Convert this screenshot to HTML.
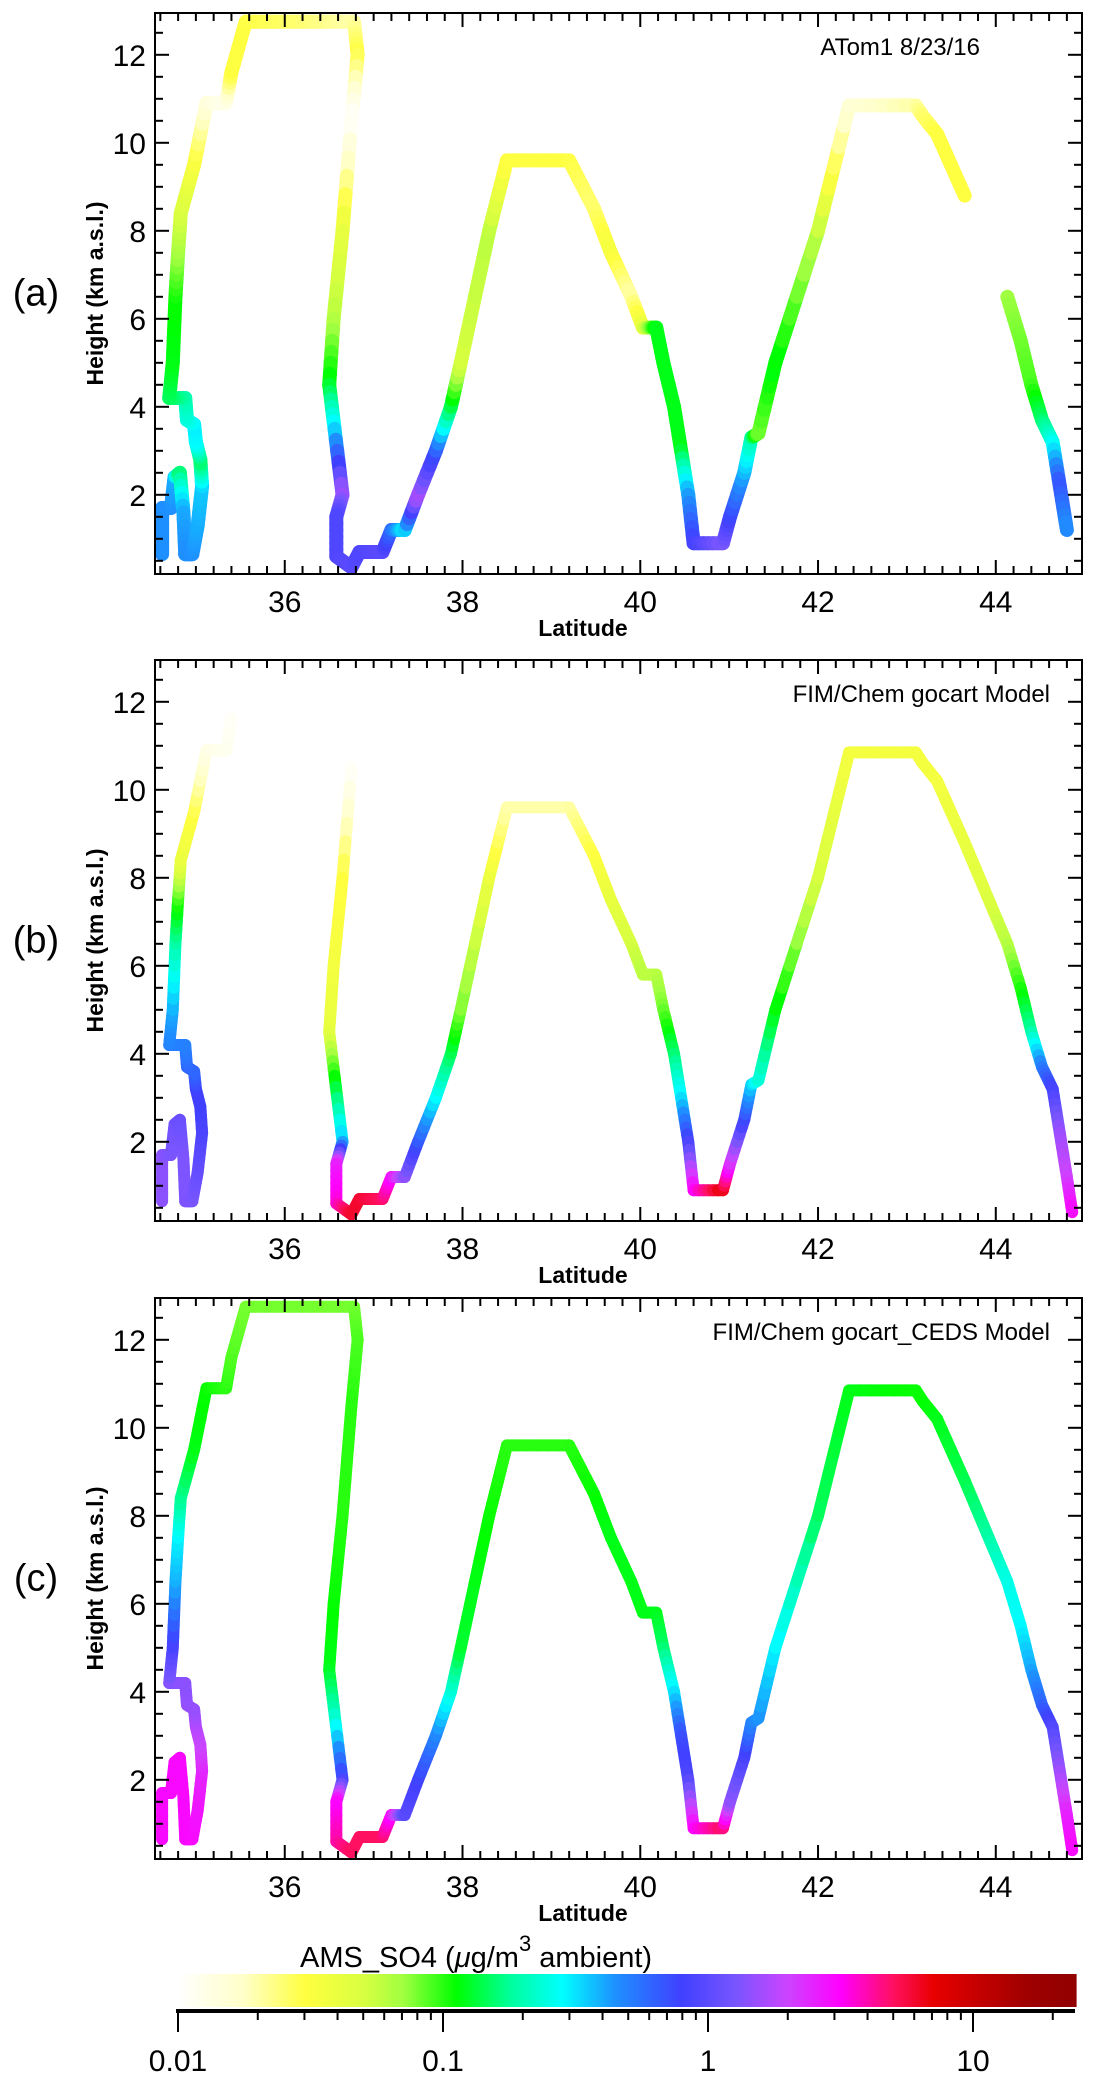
<!DOCTYPE html>
<html><head><meta charset="utf-8"><style>
html,body{margin:0;padding:0;background:#fff}
svg{display:block}
text{font-family:"Liberation Sans",sans-serif;fill:#000}
</style></head><body>
<svg id="fig" width="1096" height="2083" viewBox="0 0 1096 2083" xmlns="http://www.w3.org/2000/svg"></svg>
<script>
// ---- data ----
const lats = [34.62,34.62,34.72,34.76,34.82,34.86,34.88,34.96,35.02,35.07,35.05,35.0,34.98,34.9,34.88,34.7,34.74,34.77,34.8,34.83,34.98,35.12,35.34,35.4,35.56,36.2,36.78,36.82,36.75,36.65,36.55,36.5,36.56,36.65,36.58,36.58,36.75,36.84,37.1,37.2,37.35,37.5,37.7,37.87,37.98,38.3,38.5,39.2,39.48,39.67,39.9,40.03,40.18,40.26,40.38,40.46,40.54,40.6,40.93,41.01,41.17,41.25,41.33,41.52,42.0,42.35,43.1,43.18,43.34,43.65,43.9,44.13,44.28,44.4,44.52,44.64,44.72,44.8,44.86];
const alts = [0.65,1.7,1.7,2.4,2.5,1.6,0.65,0.65,1.3,2.2,2.8,3.2,3.6,3.7,4.2,4.2,5.0,6.5,7.5,8.4,9.5,10.9,10.9,11.6,12.75,12.75,12.75,12.0,10.5,8.0,6.0,4.5,3.5,2.0,1.5,0.6,0.35,0.7,0.7,1.2,1.2,2.0,3.0,4.0,5.0,8.0,9.6,9.6,8.5,7.5,6.5,5.8,5.8,5.0,4.0,3.0,2.0,0.9,0.9,1.5,2.5,3.3,3.4,5.0,8.0,10.85,10.85,10.6,10.2,8.8,7.6,6.5,5.5,4.5,3.7,3.2,2.2,1.2,0.4];
const concA = [0.45,0.45,0.45,0.4,0.15,0.4,0.45,0.45,0.4,0.35,0.15,0.28,0.3,0.25,0.2,0.15,0.12,0.11,0.07,0.05,0.035,0.015,0.012,0.03,0.03,0.025,0.02,0.03,0.01,0.04,0.06,0.12,0.3,1.6,0.9,0.9,1.0,0.9,1.0,0.6,0.3,1.7,0.7,0.15,0.05,0.06,0.03,0.03,0.025,0.035,0.02,0.04,0.12,0.12,0.12,0.12,0.4,0.8,1.3,0.8,0.4,0.2,0.08,0.12,0.06,0.015,0.02,0.025,0.03,0.03,null,0.07,0.08,0.09,0.15,0.25,0.7,0.45,null];
const concB = [1.4,1.4,1.3,1.2,1.1,1.3,1.3,1.3,1.1,0.9,0.8,0.8,0.6,0.6,0.5,0.5,0.4,0.2,0.1,0.04,0.03,0.013,0.012,0.011,null,null,null,null,0.01,0.03,0.035,0.04,0.1,0.35,2.5,3.5,6,6,5,3,1.5,0.7,0.3,0.15,0.08,0.04,0.02,0.02,0.03,0.04,0.05,0.06,0.06,0.08,0.15,0.3,0.8,3,7,2.5,0.8,0.35,0.25,0.12,0.05,0.035,0.035,0.035,0.035,0.04,0.045,0.06,0.1,0.18,0.5,0.8,1.5,2,3];
const concC = [3,3,3,3,3,3,3,3,2.8,2.5,2,1.8,1.5,1.5,1.4,1.4,0.9,0.4,0.3,0.18,0.12,0.11,0.1,0.09,0.08,0.08,0.08,0.09,0.1,0.1,0.11,0.12,0.2,0.8,3,4,5,5,5,3,1,0.8,0.5,0.25,0.13,0.11,0.1,0.1,0.11,0.12,0.12,0.12,0.12,0.15,0.3,0.7,0.9,3,5,1.5,0.9,0.5,0.45,0.3,0.15,0.12,0.11,0.11,0.12,0.14,0.18,0.25,0.28,0.4,0.6,0.9,1.5,2.5,3];
const latTicks = [36,38,40,42,44];
const altTicks = [2,4,6,8,10,12];
const cbTicks = [0.01,0.1,1,10];
const cbTickLabels = ["0.01","0.1","1","10"];
const panelLabels = ["(a)","(b)","(c)"];
const panelTitles = ["ATom1 8/23/16","FIM/Chem gocart Model","FIM/Chem gocart_CEDS Model"];

// ---- colormap ----
const cmap = [[-2,[255,255,255]],[-1.75,[255,255,200]],[-1.52,[255,255,64]],[-1.3,[216,255,64]],[-1.15,[160,255,64]],[-0.95,[0,255,0]],[-0.75,[0,255,153]],[-0.55,[0,255,255]],[-0.35,[30,144,255]],[-0.1,[64,64,255]],[0.1,[119,85,255]],[0.3,[204,68,255]],[0.5,[255,0,255]],[0.7,[255,16,96]],[0.85,[232,0,0]],[1.2,[160,0,0]],[1.4,[144,0,0]]];
function colorOf(lv){
  if(lv<=cmap[0][0]) return 'rgb(255,255,255)';
  for(let i=1;i<cmap.length;i++){
    if(lv<=cmap[i][0]){
      const t=(lv-cmap[i-1][0])/(cmap[i][0]-cmap[i-1][0]);
      const a=cmap[i-1][1],b=cmap[i][1];
      return 'rgb('+a.map((v,k)=>Math.round(v+(b[k]-v)*t)).join(',')+')';
    }
  }
  return 'rgb(144,0,0)';
}

const NS='http://www.w3.org/2000/svg';
const svg=document.getElementById('fig');
function mk(tag,attrs,parent){const e=document.createElementNS(NS,tag);for(const k in attrs)e.setAttribute(k,attrs[k]);(parent||svg).appendChild(e);return e;}

const X0=155,X1=1082,LAT0=34.54,LAT1=44.97;
const H=561,ALT0=0.2,ALT1=12.95;
const tops=[13,660,1298];
const concs=[concA,concB,concC];
const widths=[14,12,12];
function xS(lat){return X0+(lat-LAT0)/(LAT1-LAT0)*(X1-X0);}

tops.forEach((top,p)=>{
  const yS=a=>top+H-(a-ALT0)/(ALT1-ALT0)*H;
  const g=mk('g',{});
  
  
  const tr=mk('g',{},g);
  
  
  const conc=concs[p];
  for(let i=0;i<lats.length-1;i++){
    if(conc[i]==null||conc[i+1]==null) continue;
    const n=6,l0=Math.log10(conc[i]),l1=Math.log10(conc[i+1]);
    for(let k=0;k<n;k++){
      const t0=k/n,t1=(k+1)/n,tm=(k+0.5)/n;
      const ln=mk('line',{x1:xS(lats[i]+(lats[i+1]-lats[i])*t0),y1:yS(alts[i]+(alts[i+1]-alts[i])*t0),x2:xS(lats[i]+(lats[i+1]-lats[i])*t1),y2:yS(alts[i]+(alts[i+1]-alts[i])*t1),stroke:colorOf(l0+(l1-l0)*tm),'stroke-width':widths[p],'stroke-linecap':'round'},tr);
      
      
    }
  }
  const fr=mk('rect',{x:X0,y:top,width:X1-X0,height:H,fill:'none',stroke:'#000','stroke-width':2},g);
  
  
  for(let v=34.6;v<=44.97;v+=0.2){
    const x=xS(v);const major=Math.abs(v/2-Math.round(v/2))<0.01;const L=major?14:8;
    mk('line',{x1:x,y1:top+H,x2:x,y2:top+H-L,stroke:'#000','stroke-width':2},g);
    mk('line',{x1:x,y1:top,x2:x,y2:top+L,stroke:'#000','stroke-width':2},g);
  }
  latTicks.forEach(v=>{
    const t=mk('text',{x:xS(v),y:top+H+38,'font-size':30,'text-anchor':'middle'},g);
    t.textContent=v;
    
    
  });
  for(let v=0.5;v<=12.9;v+=0.5){
    const y=yS(v);const major=Math.abs(v/2-Math.round(v/2))<0.01;const L=major?14:8;
    mk('line',{x1:X0,y1:y,x2:X0+L,y2:y,stroke:'#000','stroke-width':2},g);
    mk('line',{x1:X1,y1:y,x2:X1-L,y2:y,stroke:'#000','stroke-width':2},g);
  }
  altTicks.forEach(v=>{
    const t=mk('text',{x:146,y:yS(v)+11,'font-size':30,'text-anchor':'end'},g);
    t.textContent=v;
    
    
  });
  const xt=mk('text',{x:583,y:top+H+62,'font-size':23,'font-weight':'bold','text-anchor':'middle'},g);
  xt.textContent='Latitude';
  
  
  const cy=top+H/2;
  const yt=mk('text',{x:0,y:0,'font-size':23,'font-weight':'bold','text-anchor':'middle',transform:'translate(103,'+cy+') rotate(-90)'},g);
  yt.textContent='Height (km a.s.l.)';
  
  
  const pl=mk('text',{x:36,y:cy+12,'font-size':38,'text-anchor':'middle'},g);
  pl.textContent=panelLabels[p];
  
  
  const pt=mk('text',{x:p===0?980:1050,y:top+42,'font-size':24,'text-anchor':'end'},g);
  pt.textContent=panelTitles[p];
  
  
});

// ---- colorbar ----
const CB0=178,DEC=265,CBT=1974,CBB=2007;
function cbX(v){return CB0+(Math.log10(v)+2)*DEC;}
const cbg=mk('g',{});


const cbRight=1075;
for(let x=CB0;x<cbRight;x+=2){
  const lv=-2+(x+1-CB0)/DEC;
  mk('rect',{x:x,y:CBT,width:2.6,height:CBB-CBT,fill:colorOf(lv)},cbg);
}
mk('rect',{x:CB0-2,y:2009,width:cbRight-CB0+2,height:4,fill:'#000'},cbg);
for(let d=-2;d<=1;d++){
  for(let m=1;m<=9;m++){
    const v=m*Math.pow(10,d);const x=cbX(v);if(x>cbRight)break;
    mk('line',{x1:x,y1:2012,x2:x,y2:m===1?2032:2020,stroke:'#000','stroke-width':2},cbg);
  }
}
cbTicks.forEach((v,i)=>{
  const t=mk('text',{x:cbX(v),y:2071,'font-size':30,'text-anchor':'middle'},cbg);
  t.textContent=cbTickLabels[i];
  
  
});
const ct=mk('text',{x:300,y:1967,'font-size':29},cbg);


ct.innerHTML='AMS_SO4 (<tspan font-style="italic">μ</tspan>g/m<tspan dy="-16" font-size="22">3</tspan><tspan dy="16"> ambient)</tspan>';
</script>
</body></html>
